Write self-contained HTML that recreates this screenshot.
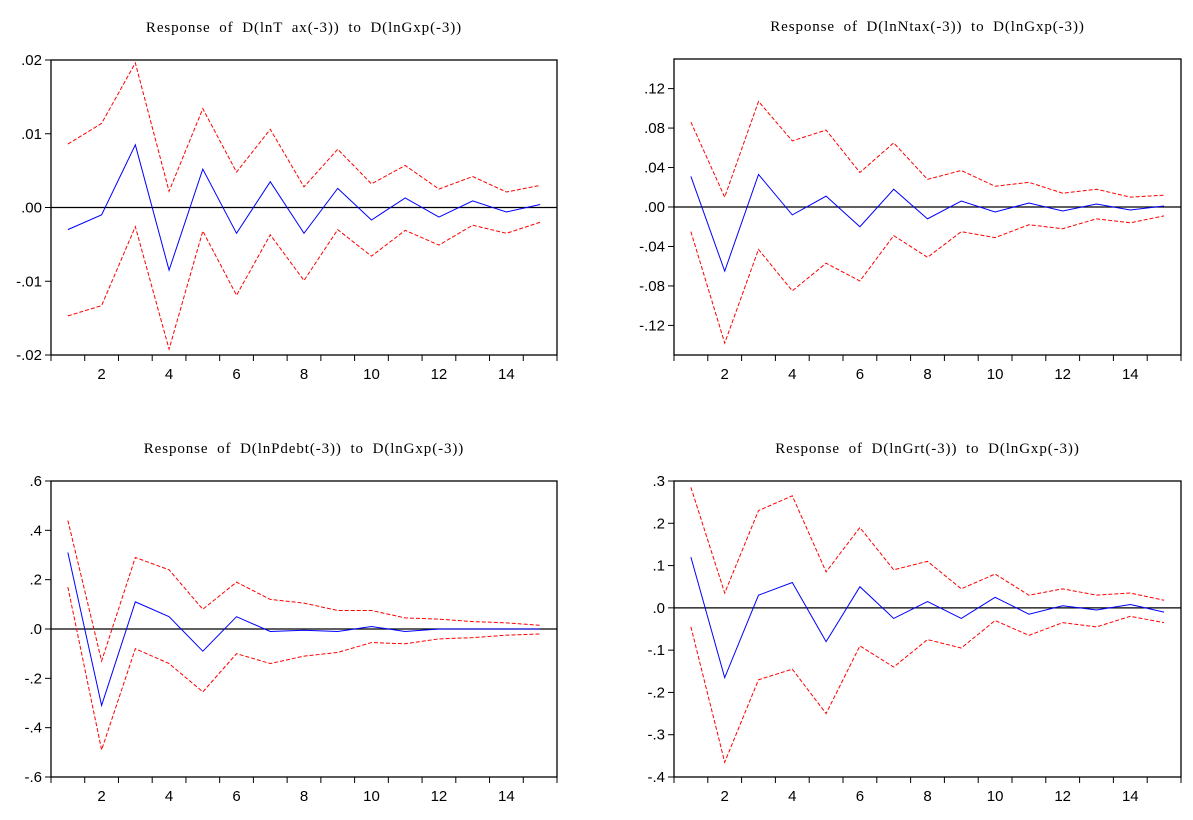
<!DOCTYPE html>
<html><head><meta charset="utf-8"><style>
html,body{margin:0;padding:0;background:#fff;}
svg text{font-family:"Liberation Sans",sans-serif;font-size:15px;fill:#000;}
svg text.title{font-family:"Liberation Serif",serif;font-size:15px;letter-spacing:0.9px;word-spacing:4px;}
</style></head><body>
<svg id="c" width="1193" height="815" xmlns="http://www.w3.org/2000/svg"></svg>
<script>
const periods=[1,2,3,4,5,6,7,8,9,10,11,12,13,14,15];
const xTickLabels=[2,4,6,8,10,12,14];
const titles=["Response of D(lnT ax(-3)) to D(lnGxp(-3))","Response of D(lnNtax(-3)) to D(lnGxp(-3))","Response of D(lnPdebt(-3)) to D(lnGxp(-3))","Response of D(lnGrt(-3)) to D(lnGxp(-3))"];
const tax=[-.003,-.001,.0085,-.0085,.0052,-.0035,.0035,-.0035,.0026,-.0017,.0013,-.0013,.0009,-.0006,.0004];
const taxUp=[.0086,.0114,.0196,.0022,.0134,.0048,.0106,.0028,.0079,.0032,.0057,.0025,.0042,.0021,.003];
const taxLo=[-.0147,-.0133,-.0026,-.0192,-.0032,-.0119,-.0037,-.0099,-.003,-.0066,-.0031,-.0051,-.0024,-.0035,-.002];
const ntax=[.031,-.065,.033,-.008,.011,-.02,.018,-.012,.006,-.005,.004,-.004,.003,-.003,.001];
const ntaxUp=[.086,.01,.107,.067,.078,.035,.065,.028,.037,.021,.025,.014,.018,.01,.012];
const ntaxLo=[-.025,-.138,-.043,-.085,-.057,-.075,-.029,-.051,-.025,-.031,-.018,-.022,-.012,-.016,-.009];
const pdebt=[.31,-.31,.11,.05,-.09,.05,-.01,-.005,-.01,.01,-.01,0,0,0,0];
const pdebtUp=[.44,-.13,.29,.24,.08,.19,.12,.105,.075,.075,.045,.04,.03,.025,.015];
const pdebtLo=[.17,-.49,-.08,-.14,-.255,-.10,-.14,-.11,-.095,-.055,-.06,-.04,-.035,-.025,-.02];
const grt=[.12,-.165,.03,.06,-.08,.05,-.025,.015,-.025,.025,-.015,.005,-.005,.008,-.01];
const grtUp=[.285,.035,.23,.265,.085,.19,.09,.11,.045,.08,.03,.045,.03,.035,.018];
const grtLo=[-.045,-.365,-.17,-.145,-.25,-.09,-.14,-.075,-.095,-.03,-.065,-.035,-.045,-.02,-.035];
const yTicks1=[.02,.01,0,-.01,-.02];
const yTickLabels1=[".02",".01",".00","-.01","-.02"];
const yTicks2=[.12,.08,.04,0,-.04,-.08,-.12];
const yTickLabels2=[".12",".08",".04",".00","-.04","-.08","-.12"];
const yTicks3=[.6,.4,.2,0,-.2,-.4,-.6];
const yTickLabels3=[".6",".4",".2",".0","-.2","-.4","-.6"];
const yTicks4=[.3,.2,.1,0,-.1,-.2,-.3,-.4];
const yTickLabels4=[".3",".2",".1",".0","-.1","-.2","-.3","-.4"];

const svg=document.getElementById('c');
const NS="http://www.w3.org/2000/svg";
function mk(tag,attrs,parent){const e=document.createElementNS(NS,tag);for(const k in attrs)e.setAttribute(k,attrs[k]);parent.appendChild(e);return e;}

const panels=[
 {L:51,R:557,T:60,B:355,min:-.02,max:.02,mid:tax,up:taxUp,lo:taxLo,yt:yTicks1,yl:yTickLabels1,name:'tax'},
 {L:674,R:1181,T:59,B:355,min:-.15,max:.15,mid:ntax,up:ntaxUp,lo:ntaxLo,yt:yTicks2,yl:yTickLabels2,name:'ntax'},
 {L:51,R:557,T:481,B:777,min:-.6,max:.6,mid:pdebt,up:pdebtUp,lo:pdebtLo,yt:yTicks3,yl:yTickLabels3,name:'pdebt'},
 {L:674,R:1181,T:481,B:777,min:-.4,max:.3,mid:grt,up:grtUp,lo:grtLo,yt:yTicks4,yl:yTickLabels4,name:'grt'}
];
panels.forEach((p,i)=>{
 const g=mk('g',{},svg);
 
 
 const n=periods.length, step=(p.R-p.L)/n;
 const xs=v=>p.L+(v-0.5)*step;
 const ys=v=>p.B-(v-p.min)/(p.max-p.min)*(p.B-p.T);
 const t=mk('text',{x:(p.L+p.R)/2,y:p.T-28,'text-anchor':'middle',class:'title'},g);
 t.textContent=titles[i];
 
 
 const fr=mk('rect',{x:p.L,y:p.T,width:p.R-p.L,height:p.B-p.T,fill:'none',stroke:'#000','stroke-width':1.3},g);
 
 
 p.yt.forEach((v,k)=>{
  mk('line',{x1:p.L-6,x2:p.L,y1:ys(v),y2:ys(v),stroke:'#000'},g);
  const tx=mk('text',{x:p.L-9,y:ys(v)+5,'text-anchor':'end'},g);
  tx.textContent=p.yl[k];
  
  
 });
 for(let k=0;k<=n;k++){const x=p.L+k*step;mk('line',{x1:x,x2:x,y1:p.B,y2:p.B+6,stroke:'#000'},g);}
 xTickLabels.forEach(v=>{
  const tx=mk('text',{x:xs(v),y:p.B+24,'text-anchor':'middle'},g);
  tx.textContent=v;
  
  
 });
 const z=mk('line',{x1:p.L,x2:p.R,y1:ys(0),y2:ys(0),stroke:'#000','stroke-width':1.2},g);
 
 
 const pts=a=>a.map((v,k)=>xs(periods[k])+','+ys(v)).join(' ');
 const u=mk('polyline',{points:pts(p.up),fill:'none',stroke:'#f00','stroke-width':1,'stroke-dasharray':'4,2'},g);
 
 
 const l=mk('polyline',{points:pts(p.lo),fill:'none',stroke:'#f00','stroke-width':1,'stroke-dasharray':'4,2'},g);
 
 
 const m=mk('polyline',{points:pts(p.mid),fill:'none',stroke:'#00f','stroke-width':1},g);
 
 
});
</script>
</body></html>
